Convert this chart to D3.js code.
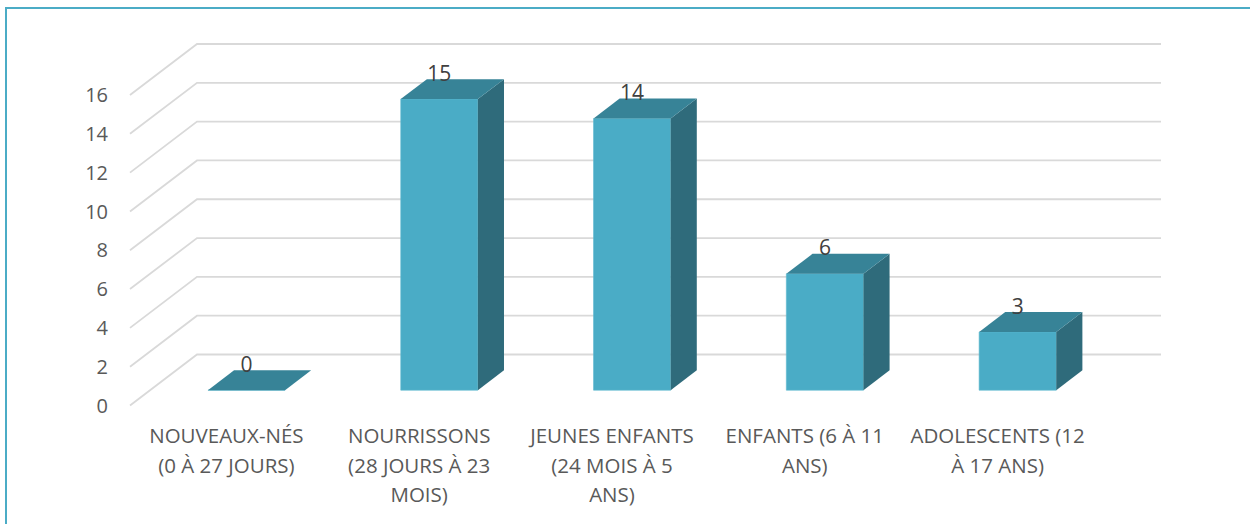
<!DOCTYPE html>
<html>
<head>
<meta charset="utf-8">
<script src="https://cdn.jsdelivr.net/npm/d3@7"></script>
<style>
  body { margin: 0; background: #fff; }
  svg { display: block; }
</style>
</head>
<body>
<div id="chart"></div>
<script>
// data
var categories = ['nn', 'nour', 'jeunes', 'enf', 'ado'];
var label_lines = [
    ['NOUVEAUX-NÉS', '(0 À 27 JOURS)'],
    ['NOURRISSONS', '(28 JOURS À 23', 'MOIS)'],
    ['JEUNES ENFANTS', '(24 MOIS À 5', 'ANS)'],
    ['ENFANTS (6 À 11', 'ANS)'],
    ['ADOLESCENTS (12', 'À 17 ANS)']
];
var values = [0, 15, 14, 6, 3];
var y_ticks = [0, 2, 4, 6, 8, 10, 12, 14, 16];

var chart_width = 1250;
var chart_height = 524;

// 3d floor: front edge and the shift to the back wall
var depth_x = 67;
var depth_y = 51;
var bar_d0 = 0.3, bar_d1 = 0.69;

var svg = d3.select('#chart')
            .append('svg')
            .attr('width', chart_width)
            .attr('height', chart_height);

// outer border (right and bottom are cut off in the picture)
svg.append('rect')
    .attr('x', 6).attr('y', 8)
    .attr('width', 1300).attr('height', 600)
    .attr('fill', 'none')
    .attr('stroke', '#4bacc6')
    .attr('stroke-width', 2);

var x = d3.scaleBand()
    .domain(categories)
    .range([130, 1094])
    .paddingInner(0.6)
    .paddingOuter(0.3);

var y = d3.scaleLinear()
    .domain([0, 16])
    .range([405.5, 95]);

function pt(px, py, d){
    return [px + d * depth_x, py - d * depth_y];
}

// gridlines: diagonal on the side + horizontal on the back wall
var grid = svg.append('g');
y_ticks.forEach(function(t){
    var yy = y(t);
    grid.append('path')
        .attr('d', 'M130,' + yy + 'L' + (130 + depth_x) + ',' + (yy - depth_y) +
                   'L' + (1094 + depth_x) + ',' + (yy - depth_y))
        .attr('fill', 'none')
        .attr('stroke', '#d9d9d9')
        .attr('stroke-width', 1.8);
});

// y labels
svg.append('g')
    .selectAll('text')
    .data(y_ticks)
    .enter()
    .append('text')
    .attr('x', 108)
    .attr('y', function(d){ return y(d); })
    .attr('dy', '0.36em')
    .attr('text-anchor', 'end')
    .style('font-family', 'Open Sans, sans-serif')
    .style('font-size', '20px')
    .style('fill', '#595959')
    .text(function(d){ return d; });

// bars
var bars = svg.append('g')
    .selectAll('g')
    .data(values)
    .enter()
    .append('g');

function poly(points){
    return 'M' + points.map(function(p){ return p.join(','); }).join('L') + 'Z';
}

bars.each(function(v, i){
    var g = d3.select(this);
    var x0 = x(categories[i]);
    var x1 = x0 + x.bandwidth();
    var yb = y(0), yt = y(v);
    // front face
    g.append('path')
        .attr('d', poly([pt(x0, yt, bar_d0), pt(x1, yt, bar_d0), pt(x1, yb, bar_d0), pt(x0, yb, bar_d0)]))
        .attr('fill', '#4aacc6')
        .attr('stroke', '#5cb8cf')
        .attr('stroke-width', 0.6);
    // side
    g.append('path')
        .attr('d', poly([pt(x1, yt, bar_d0), pt(x1, yt, bar_d1), pt(x1, yb, bar_d1), pt(x1, yb, bar_d0)]))
        .attr('fill', '#2f6b7b');
    // top
    g.append('path')
        .attr('d', poly([pt(x0, yt, bar_d0), pt(x0, yt, bar_d1), pt(x1, yt, bar_d1), pt(x1, yt, bar_d0)]))
        .attr('fill', '#378397');
});

// data labels
svg.append('g')
    .selectAll('text')
    .data(values)
    .enter()
    .append('text')
    .attr('x', function(d, i){ return pt(x(categories[i]) + x.bandwidth() / 2, 0, bar_d0)[0]; })
    .attr('y', function(d){ return pt(0, y(d), bar_d1)[1] + 1.5; })
    .attr('text-anchor', 'middle')
    .style('font-family', 'Open Sans, sans-serif')
    .style('font-size', '21px')
    .style('fill', '#404040')
    .text(function(d){ return d; });

// category labels
var cat = svg.append('g')
    .selectAll('text')
    .data(categories)
    .enter()
    .append('text')
    .attr('x', function(d){ return x(d) + x.bandwidth() / 2; })
    .attr('y', 443)
    .attr('text-anchor', 'middle')
    .style('font-family', 'Open Sans, sans-serif')
    .style('font-size', '20.5px')
    .style('fill', '#595959');

cat.each(function(d, i){
    var t = d3.select(this);
    label_lines[i].forEach(function(line, j){
        t.append('tspan')
            .attr('x', x(d) + x.bandwidth() / 2)
            .attr('dy', j === 0 ? 0 : 29.5)
            .text(line);
    });
});
</script>
</body>
</html>
